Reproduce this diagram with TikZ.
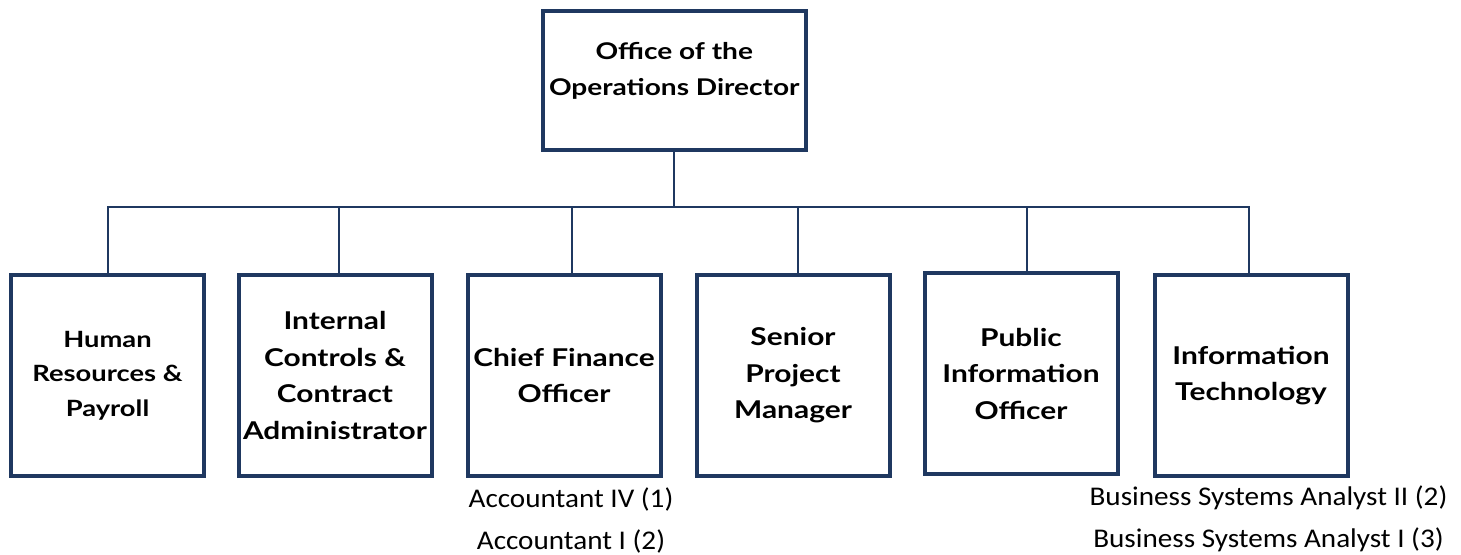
\documentclass[tikz,border=0pt]{standalone}
\usepackage{fontspec}
\usepackage{tikz}
\usetikzlibrary{positioning}
\newfontfamily\headfont[FakeStretch=1.22]{Lato}
\newfontfamily\notefont[FakeStretch=1.08]{Carlito}
\definecolor{navy}{RGB}{31,56,96}

\begin{document}
\begin{tikzpicture}[x=1pt, y=-1pt,
    unit/.style={rectangle, draw=navy, line width=4pt, fill=white,
                 minimum width=193pt, minimum height=201pt, align=center,
                 font=\headfont\bfseries\fontsize{24.5}{36.5}\selectfont},
    staff/.style={align=center, inner sep=0pt, anchor=north,
                  font=\notefont\fontsize{27}{42}\selectfont},
    link/.style={draw=navy, line width=2pt}]
  \useasboundingbox (0,0) rectangle (1461,554);

  \node[unit, minimum width=263pt, minimum height=139pt] (D) at (674.3,80.3) {};
  \node[align=center, font=\headfont\bfseries\fontsize{23}{36}\selectfont]
       (Dtext) at ([yshift=9pt]D.center) {Office of the\\Operations Director};

  \node[unit, font=\headfont\bfseries\fontsize{22.4}{34.5}\selectfont]
                    (HR)  at (107.5,375.5) {Human\\Resources \&\\Payroll};
  \node[unit]       (IC)  at (335,375.5)   {Internal\\Controls \&\\Contract\\Administrator};
  \node[unit]       (CFO) at (564,375.5)   {Chief Finance\\Officer};
  \node[unit]       (SPM) at (793,375.5)   {Senior\\Project\\Manager};
  \node[unit]       (PIO) at (1021,373.5)  {Public\\Information\\Officer};
  \node[unit]       (IT)  at (1251,375.5)  {Information\\Technology};

  \node[staff] (CFOstaff) at (571,488) {Accountant IV (1)\\Accountant I (2)};
  \node[staff] (ITstaff)  at (1268.5,486) {Business Systems Analyst II (2)\\Business Systems Analyst I (3)};

  \draw[link] (D.south) -- ++(0,55) coordinate (bus);
  \path[link] (HR.north)                 |- (bus)
              ([xshift=4pt]IC.north)     |- (bus)
              ([xshift=8pt]CFO.north)    |- (bus)
              ([xshift=5pt]SPM.north)    |- (bus)
              ([xshift=6pt]PIO.north)    |- (bus)
              ([xshift=-2pt]IT.north)    |- (bus);
\end{tikzpicture}
\end{document}
